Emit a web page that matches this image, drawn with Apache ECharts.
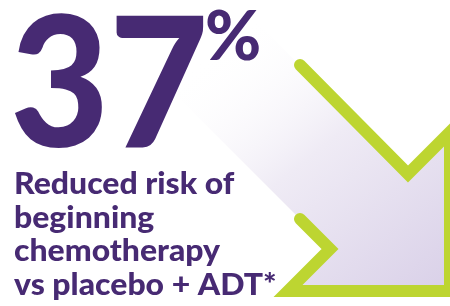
<!DOCTYPE html>
<html>
<head>
<meta charset="utf-8">
<script src="https://cdn.jsdelivr.net/npm/echarts@6/dist/echarts.min.js"></script>
<style>
  html, body { margin: 0; padding: 0; background: #fff; }
  #chart { width: 450px; height: 306px; }
</style>
</head>
<body>
<div id="chart"></div>
<script>
// headline figure
const headlineValue = [37]
const headlineUnit = ['%']
const captionLines = ['Reduced risk of', 'beginning', 'chemotherapy', 'vs placebo + ADT*']

// arrow outline (x, y in picture units, y grows downward)
const arrowOutline = [[300, 65], [408, 174], [450, 132], [450, 291], [288, 291], [330, 249], [300, 219]]
// arrow body fill, shaft fades out toward the top left
const arrowFill = [[150, -85], [408, 174], [450, 132], [450, 291], [288, 291], [330, 249], [150, 69]]

const purple = '#472a73'
const green = '#bdd531'

const chart = echarts.init(document.getElementById('chart'))

const option = {
  animation: false,
  backgroundColor: '#fff',
  grid: { left: 0, right: 0, top: 0, bottom: 0 },
  xAxis: { type: 'value', min: 0, max: 450, show: false },
  yAxis: { type: 'value', min: 0, max: 306, inverse: true, show: false },
  series: [
    {
      type: 'custom',
      clip: true,
      z: 1,
      data: [0],
      renderItem: (params, api) => {
        const pts = arrowFill.map(p => api.coord(p))
        return {
          type: 'polygon',
          shape: { points: pts },
          style: {
            fill: new echarts.graphic.LinearGradient(0, 0, 1, 1, [
              { offset: 0.3, color: 'rgba(255,255,255,0)' },
              { offset: 0.6, color: '#efebf5' },
              { offset: 1, color: '#d9d0e8' }
            ])
          }
        }
      }
    },
    {
      type: 'line',
      z: 2,
      data: arrowOutline,
      symbol: 'none',
      lineStyle: { color: green, width: 12, cap: 'round', join: 'miter' }
    }
  ],
  graphic: [
    {
      type: 'text',
      x: 10,
      y: 88,
      z: 10,
      scaleX: 0.94,
      style: {
        text: String(headlineValue[0]),
        font: '900 182px Lato',
        fill: purple,
        verticalAlign: 'middle'
      }
    },
    {
      type: 'text',
      x: 205,
      y: 38,
      z: 10,
      style: {
        text: headlineUnit[0],
        font: '900 68px Lato',
        fill: purple,
        verticalAlign: 'middle'
      }
    },
    {
      type: 'text',
      x: 14,
      y: 168,
      z: 10,
      scaleX: 1.065,
      style: {
        text: captionLines.join('\n'),
        font: '900 30px Lato',
        lineHeight: 33.5,
        fill: purple,
        verticalAlign: 'top'
      }
    }
  ]
}

chart.setOption(option)
</script>
</body>
</html>
